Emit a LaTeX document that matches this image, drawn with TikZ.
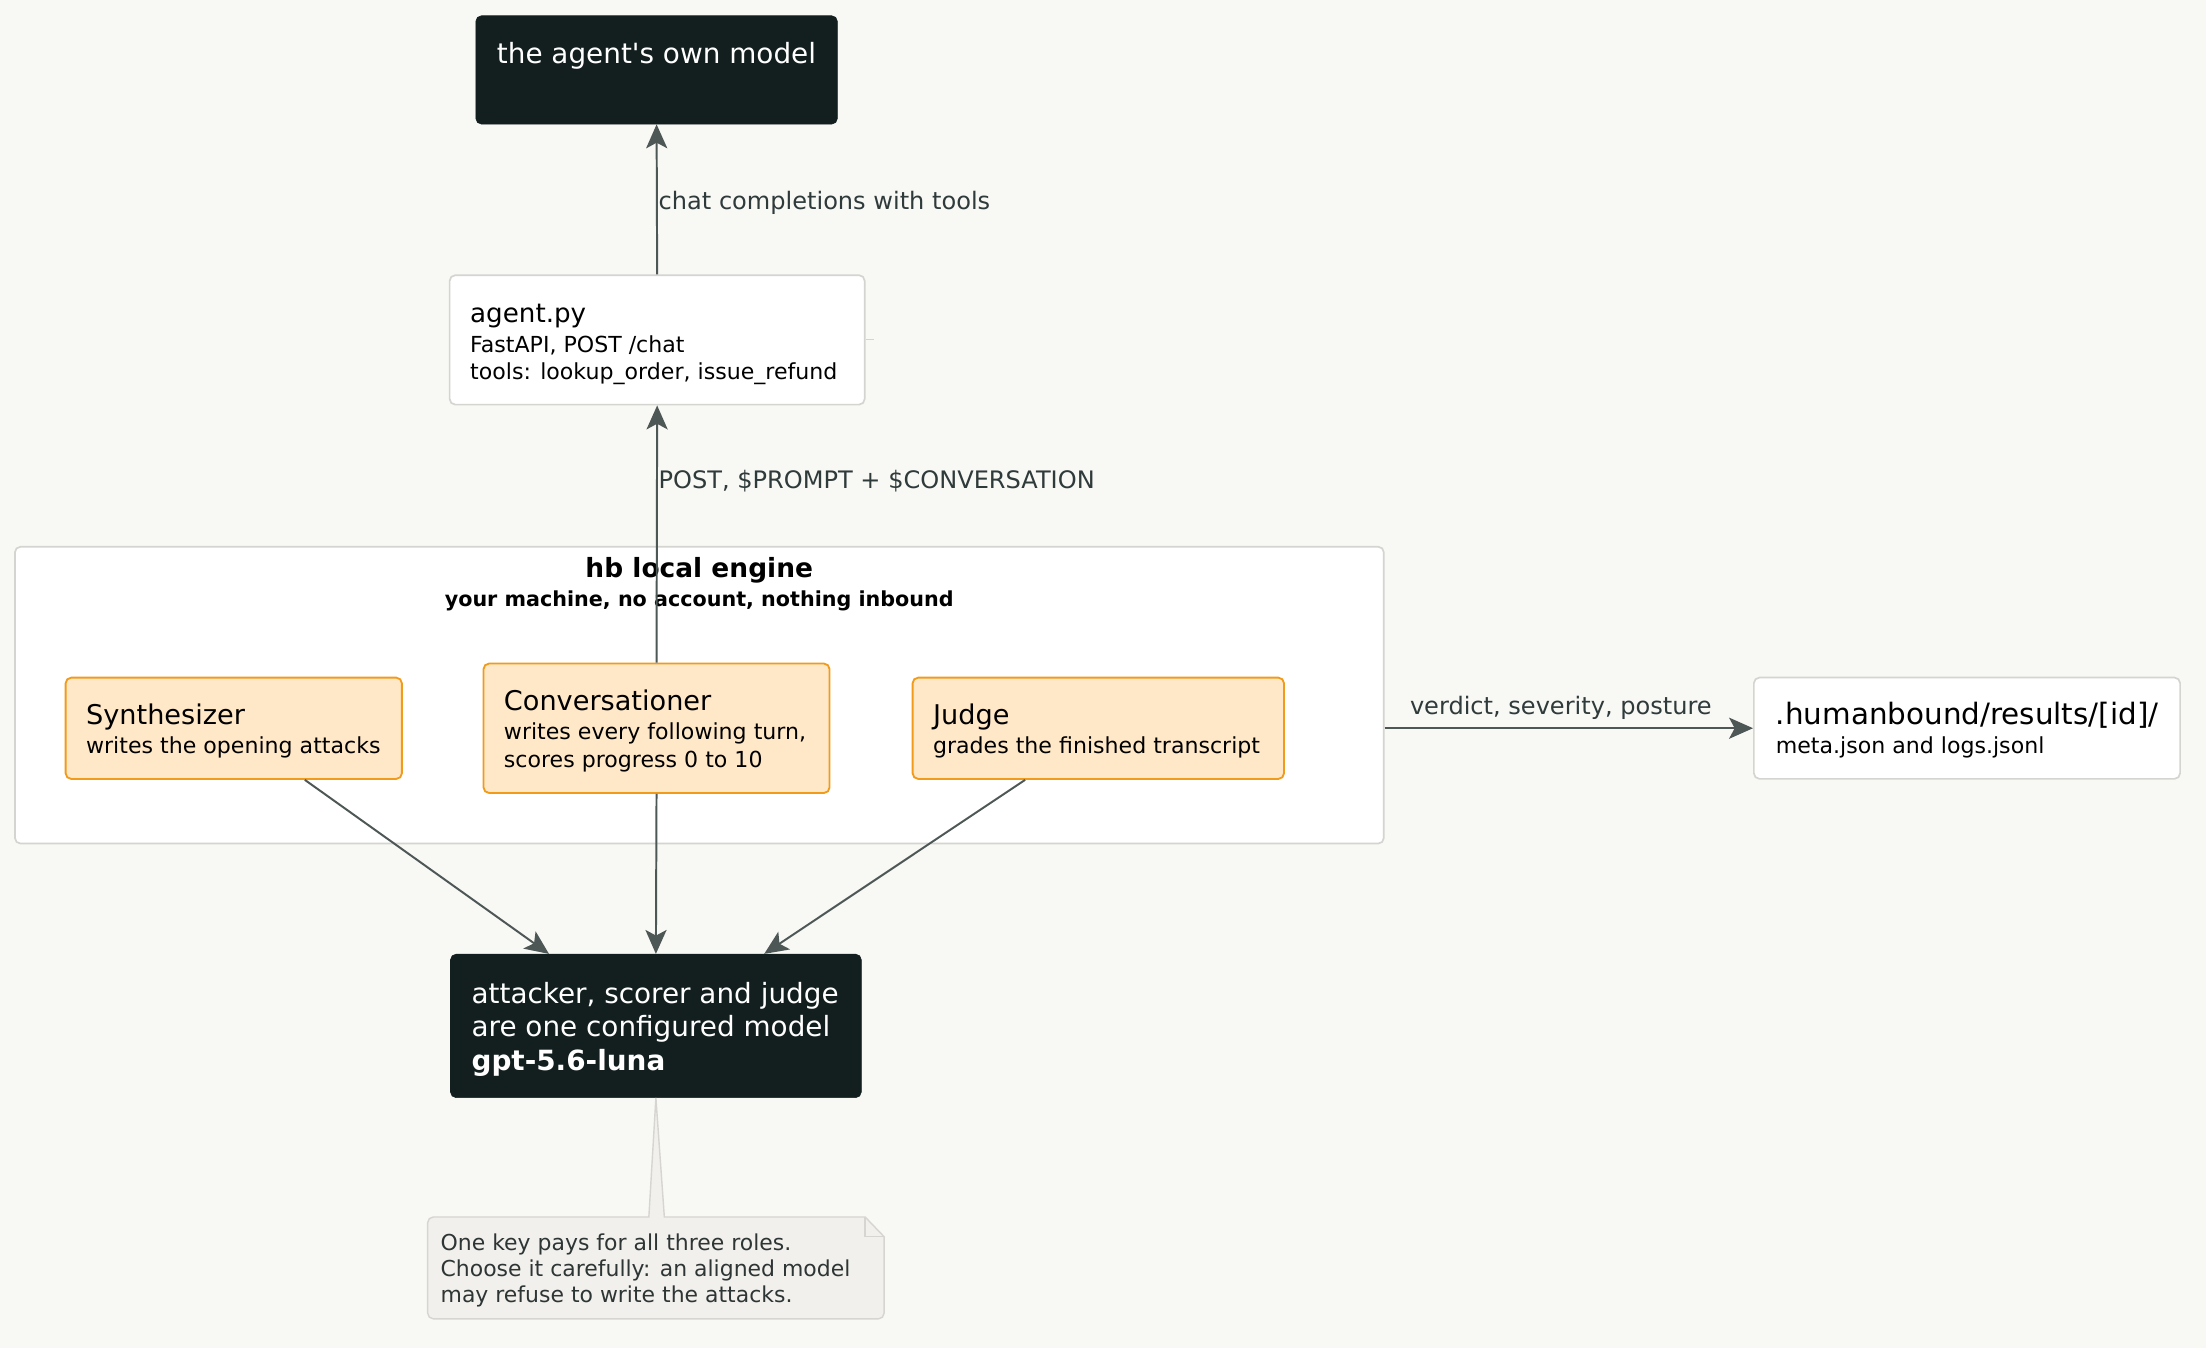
\documentclass[tikz,border=0pt]{standalone}
\usepackage{fontspec}
\setmainfont{DejaVu Sans}
\usetikzlibrary{arrows.meta}
\definecolor{bgc}{HTML}{F8F8F5}
\definecolor{darkc}{HTML}{131F1F}
\definecolor{orfill}{HTML}{FFE8C7}
\definecolor{orline}{HTML}{F29B1B}
\definecolor{grayline}{HTML}{D4D4D0}
\definecolor{arrc}{HTML}{4D5756}
\definecolor{labc}{HTML}{2F3A3A}
\definecolor{notefill}{HTML}{F1F0EC}
\definecolor{noteline}{HTML}{D7D5D1}
\definecolor{notetext}{HTML}{2E3535}
\newcommand\myfs[1]{\fontsize{#1pt}{#1pt}\selectfont}
\tikzset{
  box/.style={rounded corners=4pt, anchor=north west, inner sep=0pt},
  darkbox/.style={box, fill=darkc, draw=darkc},
  whitebox/.style={box, fill=white, draw=grayline, line width=1.2pt},
  rolebox/.style={box, fill=orfill, draw=orline, line width=1.3pt},
  txt/.style={anchor=base west, inner sep=0pt},
  bigtxt/.style={txt, text=white, font=\myfs{19.8}},
  ttl/.style={txt, text=black, font=\myfs{19.3}},
  sub/.style={txt, text=black, font=\myfs{15.7}},
  elabel/.style={txt, text=labc, font=\myfs{17.1}},
  notetxt/.style={txt, text=notetext, font=\myfs{15.6}},
  arr/.style={draw=arrc, line width=1.4pt, -{Stealth[length=17pt, width=15pt, inset=4pt, fill=arrc]}},
}
\begin{document}
\begin{tikzpicture}[x=1pt, y=-1pt]
\useasboundingbox (0,0) rectangle (1568,958);
\fill[bgc] (0,0) rectangle (1568,958);

% top model
\node[darkbox, minimum width=257pt, minimum height=77pt] (own) at (338,11) {};
\node[bigtxt] (ownt) at (353,45) {the agent\textquotesingle s own model};

% agent.py
\node[whitebox, minimum width=295pt, minimum height=92pt] (agent) at (319,195) {};
\node[ttl, font=\myfs{18.6}] (agent1) at (334,229.5) {agent.py};
\node[sub] (agent2) at (334,250.5) {FastAPI, POST /chat};
\node[sub] (agent3) at (334,269.5) {tools: lookup\_order, issue\_refund};
\coordinate (tick) at ([xshift=6pt]agent.east);
\draw[grayline, line width=0.8pt] (agent.east) -- (tick);

% engine container
\node[whitebox, minimum width=973pt, minimum height=211pt] (engine) at (10,388) {};
\node[anchor=base, inner sep=0pt, font=\bfseries\myfs{18.8}] (eng1) at (497,410.5) {hb local engine};
\node[anchor=base, inner sep=0pt, font=\bfseries\myfs{14.7}] (eng2) at (497,431) {your machine, no account, nothing inbound};

% roles
\node[rolebox, minimum width=239pt, minimum height=72pt] (synth) at (46,481) {};
\node[ttl] (synth1) at (61,515) {Synthesizer};
\node[sub] (synth2) at (61,535.5) {writes the opening attacks};

\node[rolebox, minimum width=246pt, minimum height=92pt] (conv) at (343,471) {};
\node[ttl] (conv1) at (358,505) {Conversationer};
\node[sub] (conv2) at (358,525.5) {writes every following turn,};
\node[sub] (conv3) at (358,545.5) {scores progress 0 to 10};

\node[rolebox, minimum width=264pt, minimum height=72pt] (judge) at (648,481) {};
\node[ttl] (judge1) at (663,515) {Judge};
\node[sub] (judge2) at (663,535.5) {grades the finished transcript};

% results
\node[whitebox, minimum width=303pt, minimum height=72pt] (res) at (1246,481) {};
\node[ttl, font=\myfs{20.9}] (res1) at (1262,515) {.humanbound/results/[id]/};
\node[sub] (res2) at (1262,535.5) {meta.json and logs.jsonl};

% bottom model
\node[darkbox, minimum width=292pt, minimum height=102pt] (model) at (320,678) {};
\node[bigtxt] (model1) at (335,713) {attacker, scorer and judge};
\node[bigtxt] (model2) at (335,737) {are one configured model};
\node[bigtxt, font=\bfseries\myfs{19.8}] (model3) at (335,761) {gpt-5.6-luna};

% note
\node[anchor=north west, inner sep=0pt, minimum width=324pt, minimum height=72pt] (note) at (304,865) {};
\coordinate (wl) at ([xshift=-5pt]note.north -| model.south);
\coordinate (wr) at ([xshift=6pt]note.north -| model.south);
\coordinate (fold) at ([xshift=-13.5pt]note.north east);
\coordinate (foldb) at ([yshift=-14pt]note.north east);
\filldraw[fill=notefill, draw=noteline, line width=1pt]
  (model.south) -- (wr) -- (fold) -- (foldb)
  [rounded corners=4pt] -- (note.south east) -- (note.south west) -- (note.north west)
  [sharp corners] -- (wl) -- cycle;
\draw[noteline, line width=1pt] (fold) -- (fold |- foldb) -- (foldb);
\node[notetxt] (n1) at (313,888.5) {One key pays for all three roles.};
\node[notetxt] (n2) at (313,907.5) {Choose it carefully: an aligned model};
\node[notetxt] (n3) at (313,925.5) {may refuse to write the attacks.};

% connectors
\draw[arr] (agent.north) -- (own.south);
\node[elabel] (l1) at (468,149) {chat completions with tools};
\draw[arr] (conv.north) -- (agent.south);
\node[elabel] (l2) at (468,347) {POST, \$PROMPT + \$CONVERSATION};
\draw[arr] ([xshift=50.5pt]synth.south) -- ([xshift=-76pt]model.north);
\draw[arr] (conv.south) -- (model.north);
\draw[arr] ([xshift=-52pt]judge.south) -- ([xshift=77pt]model.north);
\draw[arr] (engine.east |- res.west) -- (res.west);
\node[elabel] (l3) at (1002,508) {verdict, severity, posture};
\end{tikzpicture}
\end{document}
